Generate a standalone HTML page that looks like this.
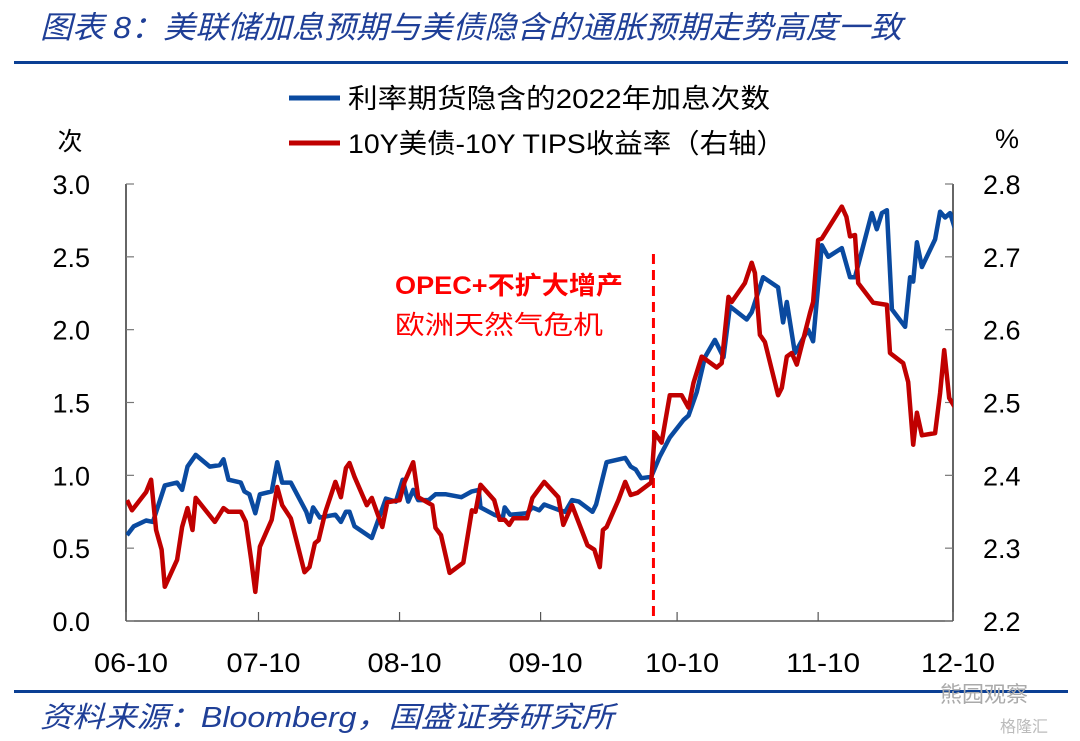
<!DOCTYPE html>
<html><head><meta charset="utf-8">
<style>
body{margin:0;background:#fff;}
svg{display:block;}
.t{font-family:"Liberation Sans","Noto Sans CJK SC",sans-serif;}
</style></head>
<body>
<svg id="chart" width="1080" height="741" viewBox="0 0 1080 741" xmlns="http://www.w3.org/2000/svg">
<text class="t" x="40" y="38" font-size="31" font-style="italic" fill="#1f3f97" textLength="862" lengthAdjust="spacingAndGlyphs">图表 8：美联储加息预期与美债隐含的通胀预期走势高度一致</text>
<rect x="14" y="61" width="1054" height="3" fill="#0b3f94"/>
<g>
<g>
<line x1="289" y1="98" x2="340" y2="98" stroke="#0a4aa0" stroke-width="5"/>
<text class="t" x="348" y="108" font-size="27" fill="#000" textLength="422" lengthAdjust="spacingAndGlyphs">利率期货隐含的2022年加息次数</text></g>
<g>
<line x1="289" y1="143" x2="340" y2="143" stroke="#c00000" stroke-width="5"/>
<text class="t" x="348" y="153" font-size="27" fill="#000" textLength="437" lengthAdjust="spacingAndGlyphs">10Y美债-10Y TIPS收益率（右轴）</text></g>
</g>
<text class="t" x="70" y="150" font-size="25" text-anchor="middle">次</text>
<text class="t" x="1007" y="148" font-size="27" text-anchor="middle">%</text>
<g id="axes"></g>
<g id="marks"></g>
<g>
<text class="t" x="395" y="294" font-size="25" font-weight="bold" fill="#ff0000" textLength="228" lengthAdjust="spacingAndGlyphs">OPEC+不扩大增产</text>
<text class="t" x="395" y="334" font-size="26" fill="#ff0000" textLength="208" lengthAdjust="spacingAndGlyphs">欧洲天然气危机</text>
</g>
<rect x="14" y="690" width="1054" height="3" fill="#0b3f94"/>
<text class="t" x="40" y="727" font-size="29" font-style="italic" fill="#1f3f97" textLength="574" lengthAdjust="spacingAndGlyphs">资料来源：Bloomberg，国盛证券研究所</text>
<text class="t" x="940" y="702" font-size="22" fill="#aaa">熊园观察</text>
<text class="t" x="1000" y="732" font-size="16" fill="#bbb">格隆汇</text>
</svg>
<script>
const xTickDays=[0,30,61,92,122,153,183];
const xTickLabels=["06-10","07-10","08-10","09-10","10-10","11-10","12-10"];
const leftTicks=[0.0,0.5,1.0,1.5,2.0,2.5,3.0];
const rightTicks=[2.2,2.3,2.4,2.5,2.6,2.7,2.8];
const eventDay=116.8;
const blueDays=[1.1,2.6,5.3,6.8,9.4,12.1,13.2,14.4,16.2,19.3,21.5,22.3,23.4,26.1,26.9,28.0,29.3,30.3,32.9,34.1,35.2,37.1,40.5,41.2,42.0,43.5,46.9,48.1,49.2,50.0,51.1,54.9,58.0,60.2,61.7,62.9,64.0,65.1,67.4,68.9,71.2,74.6,76.9,78.4,78.8,81.8,83.7,84.1,85.3,89.0,90.2,91.7,92.8,96.2,97.4,98.9,100.4,103.4,104.2,106.5,110.6,111.8,112.9,114.1,116.3,118.2,120.4,123.4,124.5,126.3,128.1,130.3,132.2,133.6,137.3,138.4,140.9,144.2,145.3,146.1,147.9,150.8,151.9,153.8,155.2,158.2,160.0,161.1,164.8,165.9,167.0,168.1,169.2,172.1,173.2,173.9,174.7,175.8,178.7,179.8,180.9,182.0,183.1];
const blueVals=[0.59,0.65,0.69,0.68,0.93,0.95,0.90,1.06,1.14,1.06,1.07,1.11,0.97,0.95,0.89,0.87,0.74,0.87,0.89,1.09,0.95,0.95,0.75,0.68,0.78,0.71,0.73,0.68,0.75,0.75,0.65,0.57,0.84,0.82,0.97,0.82,0.90,0.83,0.83,0.87,0.87,0.85,0.89,0.90,0.78,0.73,0.71,0.78,0.73,0.74,0.78,0.76,0.80,0.76,0.75,0.83,0.82,0.75,0.80,1.09,1.12,1.06,1.04,0.98,0.99,1.13,1.26,1.38,1.41,1.57,1.81,1.93,1.81,2.16,2.07,2.12,2.36,2.29,2.05,2.19,1.84,2.00,1.92,2.58,2.50,2.56,2.36,2.36,2.80,2.69,2.80,2.82,2.14,2.02,2.36,2.33,2.60,2.43,2.62,2.81,2.77,2.80,2.69];
const redDays=[1.1,2.2,5.3,6.4,7.5,8.7,9.4,12.1,13.2,14.4,15.5,16.2,20.4,22.3,23.4,26.1,27.2,28.4,29.3,30.3,32.9,34.1,35.2,37.1,40.1,41.2,42.4,43.2,44.7,46.9,48.1,49.2,50.0,51.1,53.8,54.9,57.2,58.3,61.0,62.1,64.0,65.1,68.2,68.9,70.1,72.0,75.0,76.9,77.7,78.8,81.8,83.0,84.1,85.1,86.0,89.0,90.2,92.8,95.9,97.0,98.9,102.3,103.8,105.0,105.7,106.5,109.1,110.6,111.8,113.3,116.3,117.1,118.6,120.4,123.0,124.5,125.6,127.4,130.7,131.8,133.3,134.0,136.9,138.4,139.1,140.2,141.3,144.2,145.0,146.1,147.2,148.3,151.2,151.9,153.0,153.8,158.2,159.2,160.0,161.1,161.8,165.1,168.1,168.8,171.7,172.8,173.9,174.7,175.8,178.7,179.8,180.7,181.8,183.1];
const redVals=[2.366,2.352,2.377,2.394,2.325,2.298,2.247,2.284,2.329,2.355,2.325,2.369,2.336,2.355,2.350,2.350,2.336,2.284,2.240,2.302,2.339,2.384,2.359,2.341,2.267,2.274,2.307,2.311,2.350,2.391,2.370,2.410,2.417,2.398,2.359,2.369,2.329,2.363,2.366,2.391,2.418,2.370,2.359,2.328,2.318,2.266,2.280,2.352,2.350,2.387,2.366,2.339,2.339,2.332,2.341,2.341,2.369,2.391,2.370,2.332,2.359,2.304,2.298,2.274,2.325,2.329,2.366,2.391,2.373,2.376,2.390,2.458,2.445,2.510,2.510,2.493,2.527,2.563,2.548,2.554,2.645,2.638,2.664,2.692,2.678,2.593,2.583,2.510,2.520,2.563,2.568,2.552,2.623,2.638,2.723,2.725,2.769,2.755,2.728,2.730,2.664,2.637,2.634,2.568,2.554,2.528,2.442,2.486,2.455,2.458,2.513,2.572,2.506,2.493];

const NS="http://www.w3.org/2000/svg";
const PL=126,PR=953,PT=184,PB=621;
function xS(d){return 122+d*4.55;}
function yL(v){return PB-(v-0)/3*(PB-PT);}
function yR(v){return PB-(v-2.2)/0.6*(PB-PT);}
function mk(tag,attrs,parent){const e=document.createElementNS(NS,tag);for(const k in attrs)e.setAttribute(k,attrs[k]);parent.appendChild(e);return e;}
const axes=document.getElementById('axes'),marks=document.getElementById('marks');

const la=mk('line',{x1:PL,y1:PT,x2:PL,y2:PB,stroke:'#333','stroke-width':1.5},axes);


const ra=mk('line',{x1:PR,y1:PT,x2:PR,y2:PB,stroke:'#333','stroke-width':1.5},axes);


const xa=mk('line',{x1:PL,y1:PB,x2:PR,y2:PB,stroke:'#555','stroke-width':1.5},axes);



leftTicks.forEach(v=>{
  const y=yL(v);
  mk('line',{x1:PL,y1:y,x2:PL+8,y2:y,stroke:'#777','stroke-width':1.2},axes);
  const t=mk('text',{x:90,y:y+10,'font-size':27,'text-anchor':'end','class':'t'},axes);
  t.textContent=v.toFixed(1);
  
  
});
rightTicks.forEach(v=>{
  const y=yR(v);
  mk('line',{x1:PR-8,y1:y,x2:PR,y2:y,stroke:'#777','stroke-width':1.2},axes);
  const t=mk('text',{x:983,y:y+10,'font-size':27,'class':'t'},axes);
  t.textContent=v.toFixed(1);
  
  
});
xTickDays.forEach((d,i)=>{
  const x=Math.min(Math.max(xS(d),PL),PR);
  mk('line',{x1:x,y1:PB,x2:x,y2:PB-9,stroke:'#555','stroke-width':1.2},axes);
  const t=mk('text',{x:x+5,y:672,'font-size':27,'text-anchor':'middle','class':'t','textLength':74,'lengthAdjust':'spacingAndGlyphs'},axes);
  t.textContent=xTickLabels[i];
  
  
});

const ev=mk('line',{x1:xS(eventDay),y1:254,x2:xS(eventDay),y2:PB,stroke:'#ff0000','stroke-width':3,'stroke-dasharray':'10,6'},marks);



const cp=mk('clipPath',{id:'pc'},marks);
mk('rect',{x:PL,y:PT-20,width:PR-PL,height:PB-PT+20},cp);

const bp=mk('polyline',{points:blueDays.map((d,i)=>xS(d).toFixed(1)+','+yL(blueVals[i]).toFixed(1)).join(' '),fill:'none',stroke:'#0a4aa0','stroke-width':4.5,'stroke-linejoin':'round','clip-path':'url(#pc)'},marks);


const rp=mk('polyline',{points:redDays.map((d,i)=>xS(d).toFixed(1)+','+yR(redVals[i]).toFixed(1)).join(' '),fill:'none',stroke:'#c00000','stroke-width':4.5,'stroke-linejoin':'round','clip-path':'url(#pc)'},marks);


</script>
</body></html>
